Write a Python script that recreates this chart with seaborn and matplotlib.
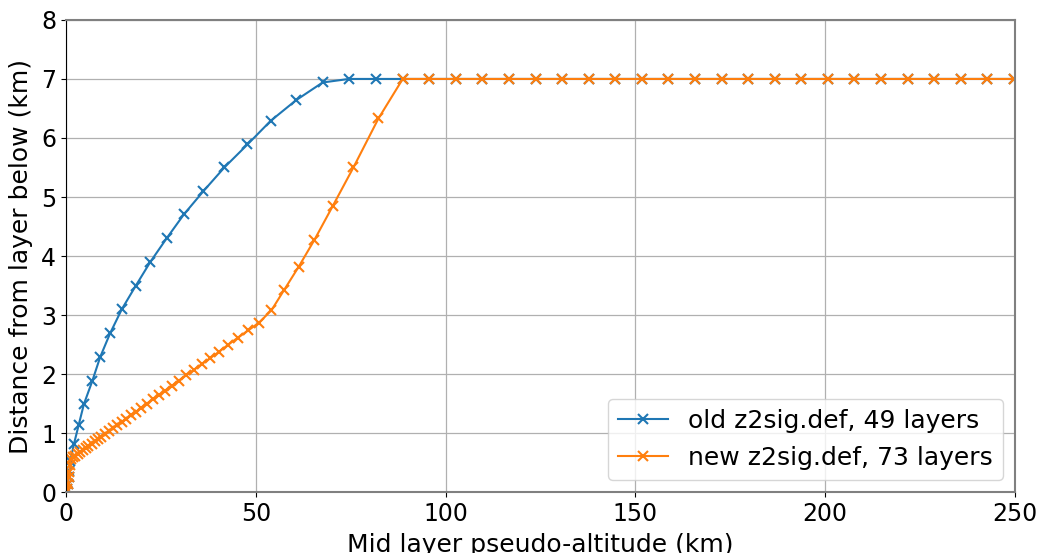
import numpy as np
import pandas as pd
import matplotlib
matplotlib.use("Agg")
import matplotlib.pyplot as plt
import seaborn as sns

# old z2sig.def, 49 layers: mid altitude (km) and distance from layer below (km)
old_alt = [0.25, 0.35, 0.5, 0.7, 0.9, 1.1,
           2.1, 3.3, 4.7, 6.9, 9.0, 11.6, 14.7, 18.4, 22.2, 26.5, 31.1,
           36.2, 41.7, 47.8, 53.9, 60.6, 67.6,
           74.5, 81.6, 88.7, 95.7, 102.7, 109.7, 116.7, 123.7, 130.7, 137.7,
           144.7, 151.7, 158.7, 165.7, 172.7, 179.7, 186.7, 193.7, 200.7,
           207.7, 214.7, 221.7, 228.7, 235.7, 242.7, 249.7]
old_dz = [0.02, 0.06, 0.14, 0.25, 0.36, 0.52,
          0.82, 1.13, 1.49, 1.88, 2.29, 2.69, 3.1, 3.5, 3.9, 4.3, 4.71,
          5.1, 5.5, 5.89, 6.29, 6.64, 6.94,
          7.0, 7.0, 7.0, 7.0, 7.0, 7.0, 7.0, 7.0, 7.0, 7.0,
          7.0, 7.0, 7.0, 7.0, 7.0, 7.0, 7.0, 7.0, 7.0,
          7.0, 7.0, 7.0, 7.0, 7.0, 7.0, 7.0]

# new z2sig.def, 73 layers
new_alt = [0.25, 0.35, 0.5, 0.7, 0.9, 1.05,
           1.26, 1.84, 2.44, 3.07, 3.73, 4.42, 5.15, 5.91, 6.71, 7.55,
           8.42, 9.34, 10.3, 11.31, 12.36, 13.47, 14.63, 15.84, 17.11, 18.44,
           19.83, 21.29, 22.82, 24.42, 26.1, 27.86, 29.7, 31.63, 33.65, 35.77,
           37.99, 40.32, 42.76, 45.32, 48.0, 50.8,
           54.1, 57.4, 61.3, 65.4, 70.2, 75.7, 82.3,
           88.7, 95.7, 102.7, 109.7, 116.7, 123.7, 130.7, 137.7, 144.7, 151.7,
           158.7, 165.7, 172.7, 179.7, 186.7, 193.7, 200.7, 207.7, 214.7,
           221.7, 228.7, 235.7, 242.7, 249.7]
new_dz = [0.02, 0.06, 0.14, 0.25, 0.35, 0.46,
          0.56, 0.59, 0.62, 0.65, 0.68, 0.71, 0.74, 0.78, 0.82, 0.86,
          0.9, 0.94, 0.98, 1.03, 1.08, 1.13, 1.19, 1.24, 1.3, 1.36,
          1.43, 1.5, 1.57, 1.64, 1.72, 1.8, 1.89, 1.98, 2.07, 2.17,
          2.27, 2.38, 2.5, 2.62, 2.74, 2.87,
          3.08, 3.42, 3.82, 4.27, 4.84, 5.5, 6.33,
          7.0, 7.0, 7.0, 7.0, 7.0, 7.0, 7.0, 7.0, 7.0, 7.0,
          7.0, 7.0, 7.0, 7.0, 7.0, 7.0, 7.0, 7.0, 7.0,
          7.0, 7.0, 7.0, 7.0, 7.0]

labels = ["old z2sig.def, 49 layers", "new z2sig.def, 73 layers"]
x_ticks = [0, 50, 100, 150, 200, 250]
y_ticks = [0, 1, 2, 3, 4, 5, 6, 7, 8]

plt.rcParams["font.size"] = 17

fig = plt.figure(figsize=(10.4, 5.53), dpi=100)
ax = fig.add_axes([0.0635, 0.110, 0.9125, 0.854])

sns.lineplot(x=old_alt, y=old_dz, ax=ax, marker="x", color="#1f77b4",
             estimator=None, sort=False, label=labels[0], linewidth=1.5,
             markersize=6.5, markeredgewidth=1.5, markeredgecolor="#1f77b4")
sns.lineplot(x=new_alt, y=new_dz, ax=ax, marker="x", color="#ff7f0e",
             estimator=None, sort=False, label=labels[1], linewidth=1.5,
             markersize=6.5, markeredgewidth=1.5, markeredgecolor="#ff7f0e")

ax.set_xlim(0, 250)
ax.set_ylim(0, 8)
ax.set_xticks(x_ticks)
ax.set_yticks(y_ticks)
ax.grid(True, color="#b0b0b0", linewidth=0.9)
ax.set_xlabel("Mid layer pseudo-altitude (km)", fontsize=18, labelpad=5)
ax.set_ylabel("Distance from layer below (km)", fontsize=18, labelpad=6)
ax.tick_params(labelsize=17)

for side in ["top", "right", "bottom"]:
    ax.spines[side].set_color("#808080")
    ax.spines[side].set_linewidth(1.5)
ax.spines["left"].set_color("black")

ax.legend(loc="lower right", fontsize=18, handlelength=2.0)

fig.savefig("out.png", dpi=100)
